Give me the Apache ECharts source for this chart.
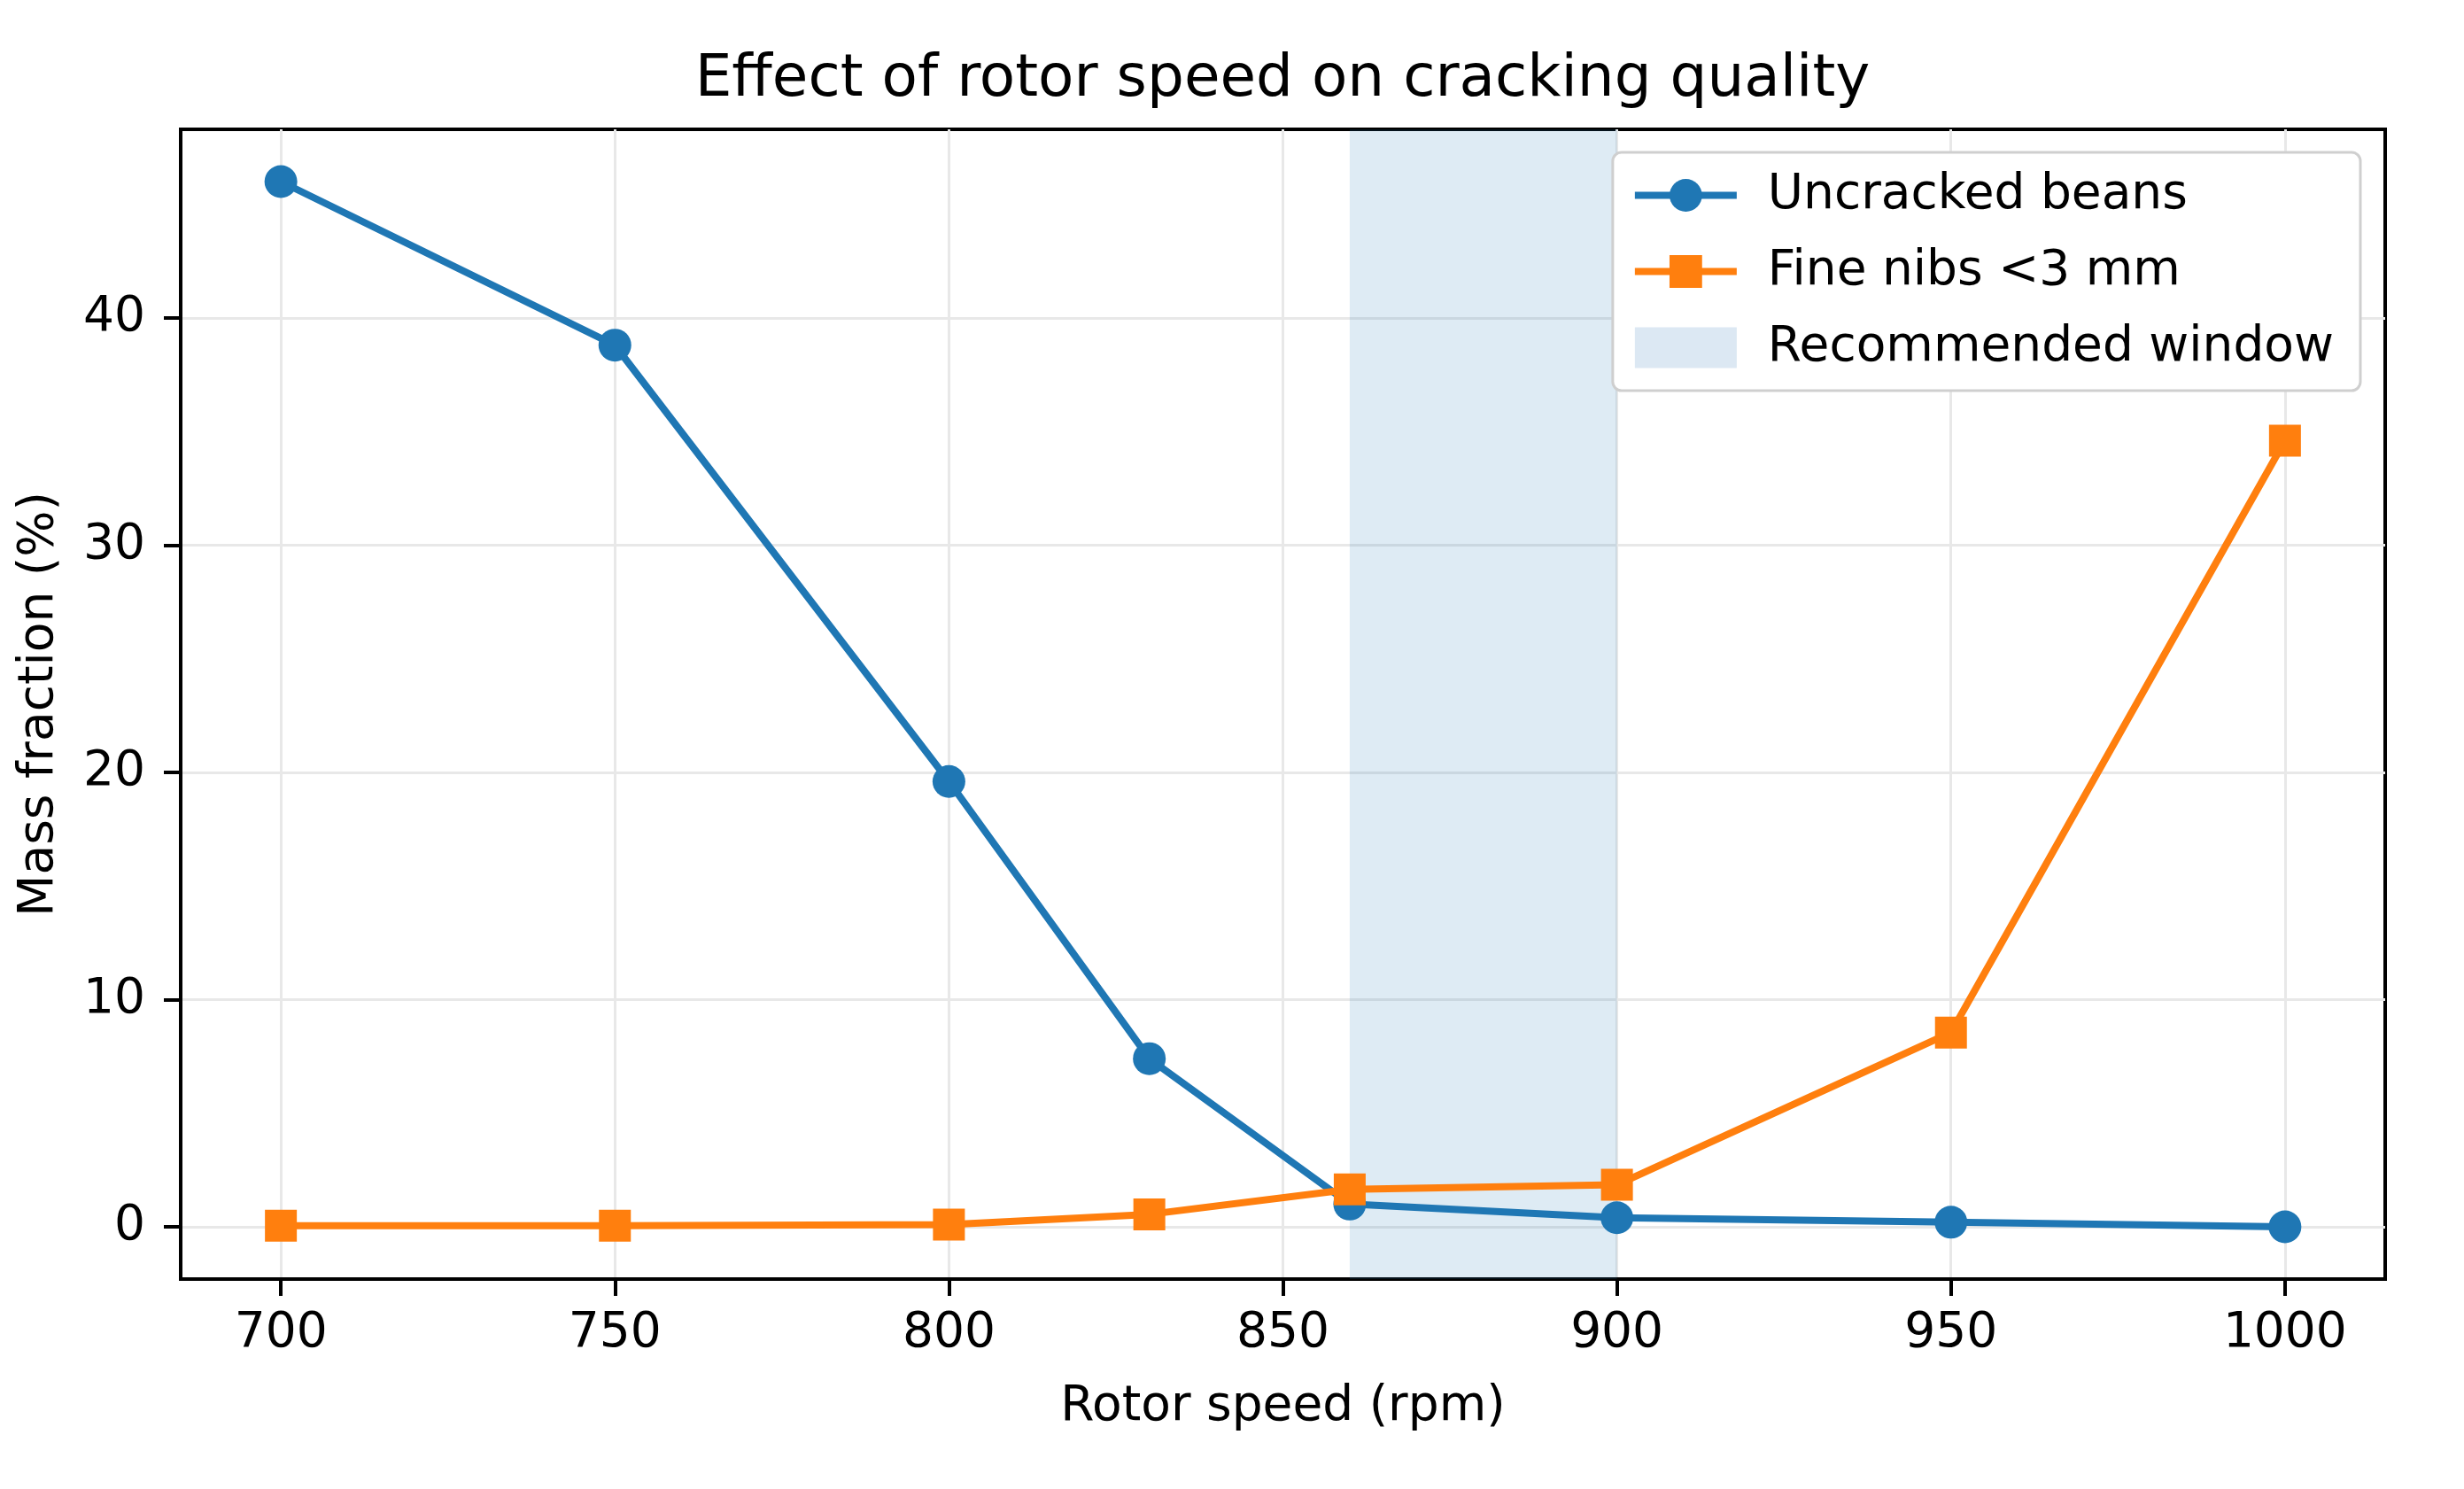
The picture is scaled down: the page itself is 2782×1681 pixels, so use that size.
<!DOCTYPE html>
<html>
<head>
<meta charset="utf-8">
<script src="https://cdn.jsdelivr.net/npm/echarts@6/dist/echarts.min.js"></script>
<style>
  html, body { margin: 0; padding: 0; background: #fff; }
  #main { width: 2782px; height: 1681px; }
</style>
</head>
<body>
<div id="main"></div>
<script>
var speeds = [700, 750, 800, 830, 860, 900, 950, 1000];
var uncracked = [46.0, 38.8, 19.6, 7.4, 1.0, 0.4, 0.2, 0.0];
var fineNibs = [0.05, 0.05, 0.1, 0.55, 1.65, 1.85, 8.55, 34.6];
var windowRange = [860, 900];
var xTicks = [700, 750, 800, 850, 900, 950, 1000];
var yTicks = [0, 10, 20, 30, 40];

var chartDom = document.getElementById('main');
var myChart = echarts.init(chartDom);
var option;

function pairs(xs, ys) {
  return xs.map(function (x, i) { return [x, ys[i]]; });
}

var font = 'DejaVu Sans';
var axisCommon = {
  axisLine: { show: true, onZero: false, lineStyle: { color: '#000', width: 4 } },
  axisTick: { show: true, inside: false, length: 19, lineStyle: { color: '#000', width: 4 } },
  splitLine: { show: true, lineStyle: { color: '#e8e8e8', width: 3 } },
  nameTextStyle: { fontFamily: font, fontSize: 55, color: '#000' }
};

option = {
  backgroundColor: '#fff',
  animation: false,
  title: {
    text: 'Effect of rotor speed on cracking quality',
    left: 1443,
    top: 53,
    textAlign: 'center',
    textStyle: { fontFamily: font, fontSize: 66, fontWeight: 'normal', color: '#000' }
  },
  grid: {
    left: 204, right: 89, top: 146, bottom: 237,
    show: true, borderColor: '#000', borderWidth: 4, backgroundColor: 'transparent'
  },
  legend: {
    orient: 'vertical',
    right: 117,
    top: 172,
    backgroundColor: '#fff',
    borderColor: '#cfcfcf',
    borderWidth: 3,
    borderRadius: 10,
    padding: [21, 30, 21, 21],
    itemWidth: 115,
    itemHeight: 46,
    itemGap: 31,
    textStyle: { fontFamily: font, fontSize: 55, color: '#000', padding: [0, 0, 0, 30] },
    data: [
      { name: 'Uncracked beans', lineStyle: { width: 8 } },
      { name: 'Fine nibs <3 mm', lineStyle: { width: 8 } },
      { name: 'Recommended window', icon: 'rect' }
    ]
  },
  xAxis: Object.assign({}, axisCommon, {
    type: 'value',
    min: 685,
    max: 1015,
    name: 'Rotor speed (rpm)',
    nameLocation: 'middle',
    nameGap: 117,
    axisTick: Object.assign({}, axisCommon.axisTick, { customValues: xTicks }),
    axisLabel: {
      customValues: xTicks, margin: 34, fontFamily: font, fontSize: 55, color: '#000',
      formatter: function (v) { return String(v); }
    }
  }),
  yAxis: Object.assign({}, axisCommon, {
    type: 'value',
    min: -2.3,
    max: 48.3,
    name: 'Mass fraction (%)',
    nameLocation: 'middle',
    nameGap: 132,
    axisTick: Object.assign({}, axisCommon.axisTick, { customValues: yTicks }),
    axisLabel: {
      customValues: yTicks, margin: 40, fontFamily: font, fontSize: 55, color: '#000',
      formatter: function (v) { return String(v); }
    }
  }),
  series: [
    {
      name: 'Recommended window',
      type: 'line',
      data: [],
      itemStyle: { color: '#dce8f3' },
      markArea: {
        silent: true,
        itemStyle: { color: 'rgba(31,119,180,0.15)' },
        data: [[{ xAxis: windowRange[0] }, { xAxis: windowRange[1] }]]
      }
    },
    {
      name: 'Uncracked beans',
      type: 'line',
      data: pairs(speeds, uncracked),
      symbol: 'circle',
      symbolSize: 37,
      lineStyle: { color: '#1f77b4', width: 8 },
      itemStyle: { color: '#1f77b4' }
    },
    {
      name: 'Fine nibs <3 mm',
      type: 'line',
      data: pairs(speeds, fineNibs),
      symbol: 'rect',
      symbolSize: 36,
      lineStyle: { color: '#ff7f0e', width: 8 },
      itemStyle: { color: '#ff7f0e' }
    }
  ]
};

option && myChart.setOption(option);
</script>
</body>
</html>
